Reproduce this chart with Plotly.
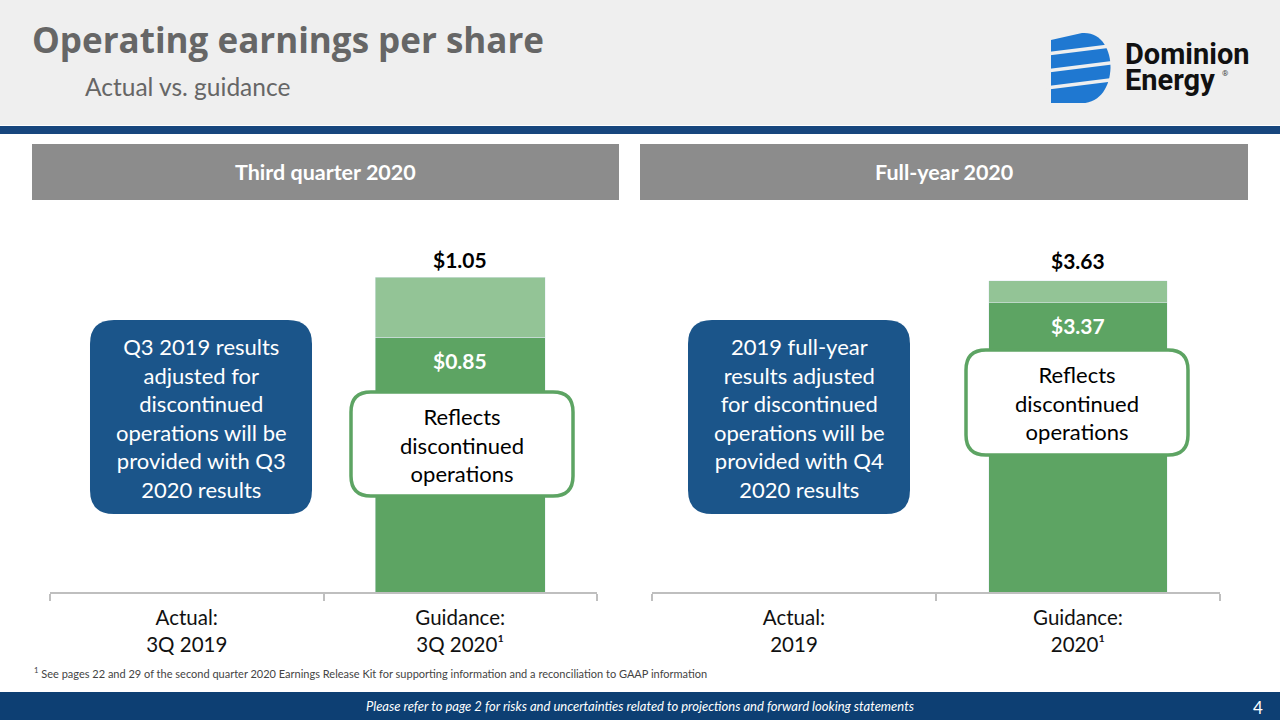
import plotly.graph_objects as go

# ---------------- data ----------------
q_categories = ["Actual:<br>3Q 2019", "Guidance:<br>3Q 2020¹"]
q_base = [None, 0.85]          # reflects discontinued operations
q_total = [None, 1.05]
fy_categories = ["Actual:<br>2019", "Guidance:<br>2020¹"]
fy_base = [None, 3.37]
fy_total = [None, 3.63]

q_top = [None if t is None else round(t - b, 2) for t, b in zip(q_total, q_base)]
fy_top = [None if t is None else round(t - b, 2) for t, b in zip(fy_total, fy_base)]

DARK_GREEN = "#5DA463"
LIGHT_GREEN = "#93C496"
NAVY = "#1B558A"
FONT = "Lato"

W, H = 1280, 720
def X(px): return px / W
def Y(py): return 1 - py / H

fig = go.Figure()

fig.add_trace(go.Bar(x=q_categories, y=q_base, marker_color=DARK_GREEN, width=0.62,
                     xaxis="x", yaxis="y", showlegend=False, hoverinfo="skip"))
fig.add_trace(go.Bar(x=q_categories, y=q_top, marker_color=LIGHT_GREEN, width=0.62,
                     xaxis="x", yaxis="y", showlegend=False, hoverinfo="skip"))
fig.add_trace(go.Bar(x=fy_categories, y=fy_base, marker_color=DARK_GREEN, width=0.63,
                     xaxis="x2", yaxis="y2", showlegend=False, hoverinfo="skip"))
fig.add_trace(go.Bar(x=fy_categories, y=fy_top, marker_color=LIGHT_GREEN, width=0.63,
                     xaxis="x2", yaxis="y2", showlegend=False, hoverinfo="skip"))

shapes = []
def rect(x0, y0, x1, y1, color):
    shapes.append(dict(type="rect", xref="paper", yref="paper",
                       x0=X(x0), x1=X(x1), y0=Y(y1), y1=Y(y0),
                       fillcolor=color, line=dict(width=0), layer="below"))

def P(x, y):
    return f"{X(x):.5f},{Y(y):.5f}"

def rrect(x0, y0, x1, y1, r, fill, line_color=None, line_width=0):
    path = (f"M {P(x0 + r, y0)} L {P(x1 - r, y0)} Q {P(x1, y0)} {P(x1, y0 + r)} "
            f"L {P(x1, y1 - r)} Q {P(x1, y1)} {P(x1 - r, y1)} "
            f"L {P(x0 + r, y1)} Q {P(x0, y1)} {P(x0, y1 - r)} "
            f"L {P(x0, y0 + r)} Q {P(x0, y0)} {P(x0 + r, y0)} Z")
    shapes.append(dict(type="path", xref="paper", yref="paper", path=path,
                       fillcolor=fill, layer="above",
                       line=dict(color=line_color or fill, width=line_width)))

# header background and band
rect(0, 0, 1280, 125, "#EFEFEF")
rect(0, 126, 1280, 134, "#17467E")
# footer band
rect(0, 692, 1280, 720, "#0D3F73")
# panel headers
rect(32, 144, 619, 200, "#8C8C8C")
rect(640, 144, 1248, 200, "#8C8C8C")

# callout boxes
rrect(90, 320, 312, 514, 24, NAVY)
rrect(688, 320, 910, 514, 24, NAVY)
rrect(351, 392, 573, 496, 20, "white", "#5DA463", 3.5)
rrect(966, 350, 1188, 455, 20, "white", "#5DA463", 3.5)

# logo: stylised "D" mark
dpath = (f"M {P(1051, 40)} L {P(1082, 33)} C {P(1120, 30)} {P(1120, 103)} {P(1082, 103)} "
         f"L {P(1051, 103)} Z")
shapes.append(dict(type="path", xref="paper", yref="paper", path=dpath,
                   fillcolor="#1F78D1", line=dict(width=0), layer="above"))
for yy in [53, 70, 87]:
    shapes.append(dict(type="line", xref="paper", yref="paper",
                       x0=X(1046), y0=Y(yy + 1), x1=X(1118), y1=Y(yy - 8),
                       line=dict(color="#EFEFEF", width=3.5), layer="above"))

annotations = []
def txt(x, y, text, size, color="#000", bold=False, xanchor="center", yanchor="middle",
        italic=False, family=FONT):
    if bold:
        text = f"<b>{text}</b>"
    if italic:
        text = f"<i>{text}</i>"
    annotations.append(dict(x=X(x), y=Y(y), xref="paper", yref="paper", text=text,
                            showarrow=False, xanchor=xanchor, yanchor=yanchor,
                            font=dict(size=size, color=color, family=family)))

txt(30, 39, "Operating earnings per share", 35, "#666666", bold=True, xanchor="left",
    family="Open Sans")
txt(83, 86, "Actual vs. guidance", 24.5, "#666666", xanchor="left")
txt(1123, 54, "Dominion", 29, "#111111", bold=True, xanchor="left", family="Roboto")
txt(1123, 80, "Energy", 29, "#111111", bold=True, xanchor="left", family="Roboto")
txt(1220, 74, "®", 8, "#444444", xanchor="left", family="Roboto")

txt(325, 172, "Third quarter 2020", 21.5, "white", bold=True)
txt(944, 172, "Full-year 2020", 21.5, "white", bold=True)

txt(201, 418, "Q3 2019 results<br>adjusted for<br>discontinued<br>operations will be<br>"
    "provided with Q3<br>2020 results", 22, "white")
txt(799, 418, "2019 full-year<br>results adjusted<br>for discontinued<br>operations will be<br>"
    "provided with Q4<br>2020 results", 22, "white")
txt(462, 445, "Reflects<br>discontinued<br>operations", 22, "#000")
txt(1077, 403, "Reflects<br>discontinued<br>operations", 22, "#000")

txt(32, 672, "<sup>1</sup> See pages 22 and 29 of the second quarter 2020 Earnings Release Kit "
    "for supporting information and a reconciliation to GAAP information", 11, "#444444",
    xanchor="left")
txt(640, 706, "Please refer to page 2 for risks and uncertainties related to projections and "
    "forward looking statements", 13, "white", italic=True)
txt(1258, 707, "4", 17, "white")

# value labels from data
for cat, b, t in zip(q_categories, q_base, q_total):
    if t is not None:
        annotations.append(dict(x=cat, y=t, xref="x", yref="y", text=f"<b>${t:.2f}</b>",
                                showarrow=False, yanchor="bottom", yshift=3,
                                font=dict(size=21, color="#000", family=FONT)))
        annotations.append(dict(x=cat, y=b, xref="x", yref="y", text=f"<b>${b:.2f}</b>",
                                showarrow=False, yanchor="top", yshift=-9,
                                font=dict(size=21, color="white", family=FONT)))
for cat, b, t in zip(fy_categories, fy_base, fy_total):
    if t is not None:
        annotations.append(dict(x=cat, y=t, xref="x2", yref="y2", text=f"<b>${t:.2f}</b>",
                                showarrow=False, yanchor="bottom", yshift=6,
                                font=dict(size=21, color="#000", family=FONT)))
        annotations.append(dict(x=cat, y=b, xref="x2", yref="y2", text=f"<b>${b:.2f}</b>",
                                showarrow=False, yanchor="top", yshift=-8,
                                font=dict(size=21, color="white", family=FONT)))

ydom = [Y(592), Y(240)]
xaxis_common = dict(showline=True, linecolor="#BFBFBF", linewidth=1.5, ticks="outside",
                    tickson="boundaries", ticklen=7, tickcolor="#BFBFBF", tickwidth=1.5,
                    showgrid=False, zeroline=False, fixedrange=True, ticklabelstandoff=7,
                    tickfont=dict(size=20.5, color="#111", family=FONT))
yaxis_common = dict(visible=False, showgrid=False, zeroline=False, fixedrange=True)

fig.update_layout(
    width=W, height=H, margin=dict(l=0, r=0, t=0, b=0),
    paper_bgcolor="white", plot_bgcolor="rgba(0,0,0,0)",
    barmode="stack", bargap=0.38,
    xaxis=dict(domain=[X(50), X(597)], anchor="y", **xaxis_common),
    xaxis2=dict(domain=[X(652), X(1220)], anchor="y2", **xaxis_common),
    yaxis=dict(domain=ydom, range=[0, (592 - 240) / 300.0], anchor="x", **yaxis_common),
    yaxis2=dict(domain=ydom, range=[0, (592 - 240) / 85.76], anchor="x2", **yaxis_common),
    shapes=shapes, annotations=annotations, font=dict(family=FONT),
)

fig.write_html("out.html", config={"displayModeBar": False},
               post_script="document.body.style.margin='0';document.body.style.padding='0';")
